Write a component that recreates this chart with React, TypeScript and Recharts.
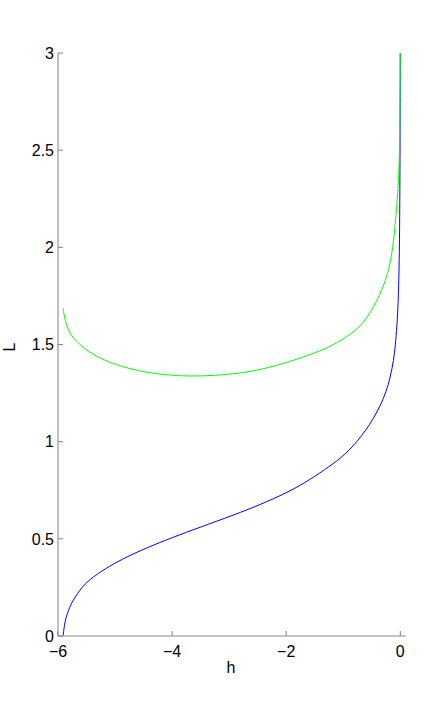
import React from 'react';
import { LineChart, Line, XAxis, YAxis } from 'recharts';

const blueH = [-5.91, -5.90, -5.885, -5.86, -5.82, -5.77, -5.70, -5.62, -5.52, -5.40, -5.18, -4.88, -4.53, -4.12, -3.62, -3.10, -2.51, -1.93, -1.58, -1.23, -1.05, -0.90, -0.76, -0.60, -0.47, -0.35, -0.25, -0.175, -0.117, -0.088, -0.058, -0.035, -0.018, -0.010, -0.005, -0.002, 0];
const blueL = [0, 0.03, 0.06, 0.095, 0.13, 0.165, 0.20, 0.235, 0.27, 0.30, 0.345, 0.395, 0.443, 0.493, 0.548, 0.603, 0.668, 0.745, 0.805, 0.875, 0.915, 0.955, 1.0, 1.06, 1.12, 1.185, 1.255, 1.33, 1.42, 1.49, 1.60, 1.72, 1.93, 2.15, 2.45, 2.75, 3.0];

const greenH = [-5.91, -5.895, -5.875, -5.84, -5.79, -5.72, -5.64, -5.47, -5.18, -4.88, -4.53, -4.12, -3.71, -3.25, -2.84, -2.54, -2.05, -1.46, -1.20, -0.99, -0.80, -0.64, -0.52, -0.41, -0.31, -0.23, -0.13, -0.058, -0.03, -0.012, -0.004, 0];
const greenL = [1.687, 1.655, 1.625, 1.59, 1.558, 1.53, 1.506, 1.463, 1.417, 1.386, 1.360, 1.343, 1.336, 1.340, 1.352, 1.365, 1.400, 1.460, 1.494, 1.530, 1.568, 1.615, 1.668, 1.725, 1.79, 1.855, 1.98, 2.22, 2.35, 2.5, 2.75, 3.0];

const xTicks = [-6, -4, -2, 0];
const yTicks = [0, 0.5, 1, 1.5, 2, 2.5, 3];

const blueData = blueH.map((h, i) => ({ h, L: blueL[i] }));
const greenData = greenH.map((h, i) => ({ h, L: greenL[i] }));

const font = "'Liberation Sans', Arial, sans-serif";

export default function App() {
  return (
    <div style={{ position: 'absolute', left: 0, top: 0, width: 448, height: 715, background: '#fff' }}>
      <LineChart width={448} height={715} margin={{ top: 53, right: 42, bottom: 78, left: 57 }}>
        <XAxis
          type="number"
          dataKey="h"
          domain={[-6, 0.1]}
          ticks={xTicks}
          allowDataOverflow
          height={1}
          tickSize={-5}
          tickMargin={15}
          axisLine={{ stroke: '#b0b0b0', strokeWidth: 1.5 }}
          tickLine={{ stroke: '#808080' }}
          tick={{ fill: '#000', fontSize: 16, fontFamily: font }}
          tickFormatter={(v: number) => (v < 0 ? '\u2212' + Math.abs(v) : String(v))}
          label={() => (
            <text x={231} y={673} textAnchor="middle" fontSize={16} fontFamily={font} fill="#000">h</text>
          )}
        />
        <YAxis
          type="number"
          dataKey="L"
          domain={[0, 3]}
          ticks={yTicks}
          width={1}
          tickSize={-5}
          tickMargin={9}
          axisLine={{ stroke: '#808080' }}
          tickLine={{ stroke: '#808080' }}
          tick={{ fill: '#000', fontSize: 16, fontFamily: font }}
          label={() => (
            <text x={15} y={347} transform={`rotate(-90 15 347)`} textAnchor="middle" fontSize={16} fontFamily={font} fill="#000">L</text>
          )}
        />
        <Line data={blueData} dataKey="L" type="basis" stroke="#0000ff" strokeWidth={1} dot={false} isAnimationActive={false} />
        <Line data={greenData} dataKey="L" type="basis" stroke="#00ff00" strokeWidth={1} dot={false} isAnimationActive={false} />
      </LineChart>
    </div>
  );
}
